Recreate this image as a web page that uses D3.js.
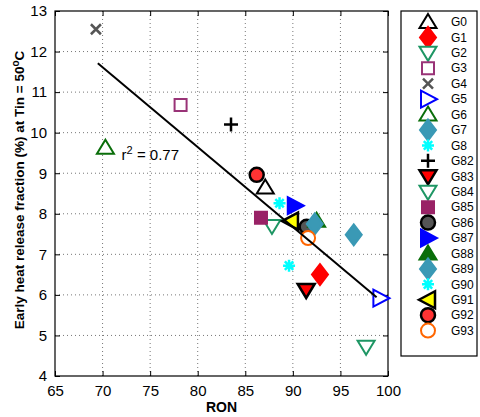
<!DOCTYPE html>
<html><head><meta charset="utf-8">
<script src="https://cdn.jsdelivr.net/npm/d3@7"></script>
<style>body{margin:0;background:#fff}</style>
</head><body><svg id="c" width="480" height="417"></svg>
<script>
const groups = ["G0","G1","G2","G3","G4","G5","G6","G7","G8","G82","G83","G84","G85","G86","G87","G88","G89","G90","G91","G92","G93"];
const ron  = [87.1, 92.85, 97.7, 78.2, 69.3, 99.2, 70.3, 96.4, 89.6, 83.5, 91.4, 87.8, 86.65, 91.45, 90.2, 92.5, 92.3, 88.6, 89.8, 86.2, 91.6];
const ehrf = [8.65, 6.5, 4.72, 10.68, 12.55, 5.92, 9.63, 7.48, 6.72, 10.2, 6.12, 7.7, 7.9, 7.68, 8.2, 7.83, 7.75, 8.26, 7.82, 8.96, 7.4];
const markerTypes = ["up","diamond","down","square","x","right","up","diamond","asterisk","plus","down","down","square","circle","right","up","diamond","asterisk","left","circle","circle"];
const strokeColors = ["#000","#ff0000","#1e9664","#993377","#555","#0000ff","#0a6e0a","#3a99b5","#00ffff","#000","#000","#1e9664","#992266","#000","#0000ff","#0a6e0a","#3a99b5","#00ffff","#000","#000","#ff6600"];
const fillColors = ["#fff","#ff0000","#fff","#fff","none","#fff","#fff","#3a99b5","none","none","#ff0000","#fff","#992266","#555","#0000ff","#0a6e0a","#3a99b5","none","#ffff00","#ff3333","#fff"];
const xTicks = [65,70,75,80,85,90,95,100];
const yTicks = [4,5,6,7,8,9,10,11,12,13];
const fitRon = [69.5, 98.8];
const fitEhrf = [11.71, 5.94];
const r2Pos = [72.0, 9.33];

const svg = d3.select("#c");
const L=55, R=388, T=11, B=376;
const x = d3.scaleLinear().domain([65,100]).range([L,R]);
const y = d3.scaleLinear().domain([4,13]).range([B,T]);
const font = "'Liberation Sans', Arial, Helvetica, sans-serif";

// grid
const grid = svg.append("g").attr("stroke","#777").attr("stroke-width",1).attr("stroke-dasharray","1,3");
xTicks.slice(1,-1).forEach(t=>grid.append("line").attr("x1",x(t)).attr("x2",x(t)).attr("y1",T).attr("y2",B));
yTicks.slice(1,-1).forEach(t=>grid.append("line").attr("x1",L).attr("x2",R).attr("y1",y(t)).attr("y2",y(t)));

// axes (inward ticks on all sides)
const axB = d3.axisBottom(x).tickValues(xTicks).tickSizeInner(-5).tickSizeOuter(0).tickPadding(9);
const axT = d3.axisTop(x).tickValues(xTicks).tickSizeInner(-5).tickSizeOuter(0).tickFormat("");
const axL = d3.axisLeft(y).tickValues(yTicks).tickSizeInner(-5).tickSizeOuter(0).tickPadding(8);
const axR = d3.axisRight(y).tickValues(yTicks).tickSizeInner(-5).tickSizeOuter(0).tickFormat("");
function style(g){ g.select(".domain").remove(); g.selectAll("line").attr("stroke","#000"); g.selectAll("text").attr("font-family",font).attr("font-size",15).attr("fill","#000"); }
svg.append("g").attr("transform",`translate(0,${B})`).call(axB).call(style);
svg.append("g").attr("transform",`translate(0,${T})`).call(axT).call(style);
svg.append("g").attr("transform",`translate(${L},0)`).call(axL).call(style);
svg.append("g").attr("transform",`translate(${R},0)`).call(axR).call(style);
svg.append("rect").attr("x",L).attr("y",T).attr("width",R-L).attr("height",B-T).attr("fill","none").attr("stroke","#000").attr("stroke-width",1.2);

function markerPath(t){
  switch(t){
    case "up": return "M0,-8L8.5,6L-8.5,6Z";
    case "down": return "M0,8L8.5,-6L-8.5,-6Z";
    case "right": return "M9,0L-7,-8.5L-7,8.5Z";
    case "left": return "M-9,0L7,-8.5L7,8.5Z";
    case "diamond": return "M0,-10.5L8,0L0,10.5L-8,0Z";
    case "square": return "M-6,-6h12v12h-12Z";
    case "circle": return "M7,0A7,7 0 1,1 -7,0A7,7 0 1,1 7,0Z";
    case "x": return "M-5,-5L5,5M5,-5L-5,5";
    case "plus": return "M-7,0H7M0,-7V7";
    case "asterisk": return "M-6,0H6M0,-6V6M-4.2,-4.2L4.2,4.2M4.2,-4.2L-4.2,4.2";
  }
}
function strokeW(i){
  const t = markerTypes[i];
  if (["x","plus","asterisk"].includes(t)) return 2.5;
  if (strokeColors[i]==="#000" && fillColors[i]!=="#fff") return 2.5;
  return 2;
}
function drawMarker(g,i,cx,cy){
  g.append("path").attr("d",markerPath(markerTypes[i])).attr("transform",`translate(${cx},${cy})`)
   .attr("fill",fillColors[i]).attr("stroke",strokeColors[i]).attr("stroke-width",strokeW(i)).attr("stroke-linejoin","miter");
}

// points
const pts = svg.append("g");
groups.forEach((gname,i)=>drawMarker(pts,i,x(ron[i]),y(ehrf[i])));

// fit line
svg.append("path").datum(fitRon.map((r,i)=>[r,fitEhrf[i]]))
  .attr("d",d3.line().x(d=>x(d[0])).y(d=>y(d[1])))
  .attr("stroke","#000").attr("stroke-width",2).attr("fill","none");

// r2 annotation
const r2 = svg.append("text").attr("x",x(r2Pos[0])).attr("y",y(r2Pos[1])).attr("font-family",font).attr("font-size",15);
r2.append("tspan").text("r");
r2.append("tspan").attr("dy",-6).attr("font-size",11).text("2");
r2.append("tspan").attr("dy",6).text(" = 0.77");

// axis titles
svg.append("text").attr("x",(L+R)/2).attr("y",412).attr("text-anchor","middle").attr("font-family",font).attr("font-weight","bold").attr("font-size",14).text("RON");
const yt = svg.append("text").attr("transform","translate(24,190) rotate(-90)").attr("text-anchor","middle").attr("font-family",font).attr("font-weight","bold").attr("font-size",13.5);
yt.append("tspan").text("Early heat release fraction (%) at Tin = 50");
yt.append("tspan").attr("dy",-5).attr("font-size",10).text("o");
yt.append("tspan").attr("dy",5).text("C");

// legend
svg.append("rect").attr("x",401).attr("y",11).attr("width",76).attr("height",345).attr("fill","#fff").attr("stroke","#000").attr("stroke-width",1.2);
const lg = svg.append("g");
groups.forEach((gname,i)=>{
  const ly = 22 + i*15.43;
  drawMarker(lg,i,428,ly);
  lg.append("text").attr("x",451).attr("y",ly).attr("dy","0.35em").attr("font-family",font).attr("font-size",12).text(gname);
});
</script></body></html>
